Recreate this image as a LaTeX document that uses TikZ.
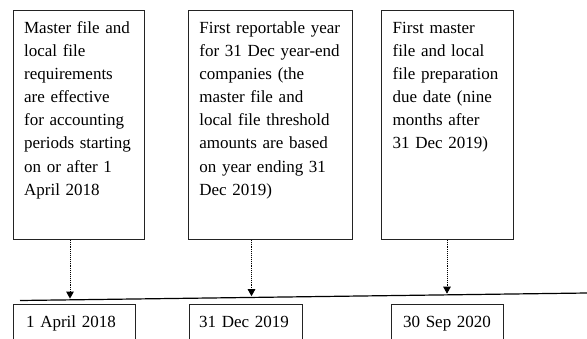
\documentclass[tikz,border=0pt]{standalone}
\usepackage{fontspec}
\setmainfont{Liberation Serif}
\usetikzlibrary{arrows.meta}

\begin{document}
\begin{tikzpicture}[x=1pt,y=1pt,yscale=-1,xscale=1,
  eventbox/.style={draw={rgb,255:red,35;green,35;blue,35},line width=0.8pt,anchor=north west,align=left,
    inner xsep=11pt,inner ysep=6pt,text height=17pt,text depth=200pt,font=\fontsize{17}{23.1}\selectfont},
  datebox/.style={eventbox,inner xsep=10pt,text depth=40pt},
  dotarrow/.style={densely dotted,line width=0.9pt,-{Triangle[width=7.5pt,length=7pt]},shorten >=1.2pt}]
\useasboundingbox (0,0) rectangle (587,338);
\node (req) at (12.7,10) [eventbox,text width=109.3pt] {Master file and\\local file\\requirements\\are effective\\for accounting\\periods starting\\on or after 1\\April 2018};
\node (first) at (188,10) [eventbox,text width=142pt] {First reportable year\\for 31 Dec year-end\\companies (the\\master file and\\local file threshold\\amounts are based\\on year ending 31\\Dec 2019)};
\node (due) at (381.3,10) [eventbox,text width=109.7pt] {First master\\file and local\\file preparation\\due date (nine\\months after\\31 Dec 2019)};
\coordinate (lineL) at (20,300.5);
\coordinate (lineR) at (587,293);
\coordinate (t1) at (70,299.8);
\coordinate (t2) at (251.5,297.4);
\coordinate (t3) at (447,294.9);
\draw [line width=1.2pt] (lineL) -- (lineR);
\draw [dotarrow] (t1 |- req.south) -- (t1);
\draw [dotarrow] (t2 |- first.south) -- (t2);
\draw [dotarrow] (t3 |- due.south) -- (t3);
\node (d1) at (12.7,304.3) [datebox,inner xsep=13pt,text width=96.3pt] {1 April 2018};
\node (d2) at (188.7,304.3) [datebox,text width=93pt] {31 Dec 2019};
\node (d3) at (390.7,304.3) [datebox,inner xsep=12pt,text width=88.6pt] {30 Sep 2020};
\end{tikzpicture}
\end{document}
